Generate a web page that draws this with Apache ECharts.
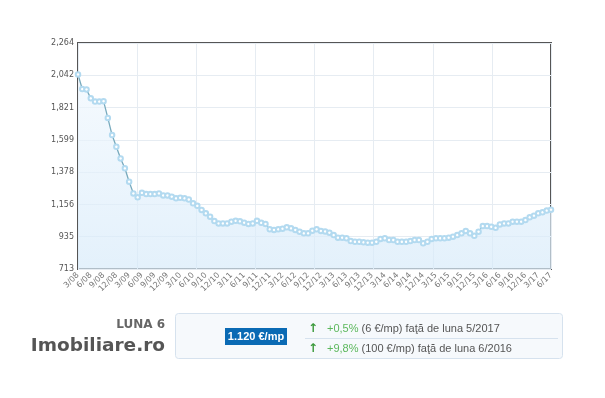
<!DOCTYPE html>
<html>
<head>
<meta charset="utf-8">
<script src="https://cdn.jsdelivr.net/npm/echarts@6/dist/echarts.min.js"></script>
<style>
html,body{margin:0;padding:0;background:#fff;}
#c{width:605px;height:398px;}
</style>
</head>
<body>
<div id="c"></div>
<script>
// Monthly price (€/mp), 3/2008 .. 6/2017
const prices = [
 2048,1948,1945,1884,1862,1862,1865,1750,1632,1552,
 1472,1404,1312,1232,1205,1236,1227,1227,1227,1232,
 1218,1218,1209,1198,1202,1198,1190,1164,1147,1118,
 1095,1072,1042,1026,1026,1026,1038,1044,1040,1031,
 1022,1026,1044,1030,1022,985,981,985,990,999,
 992,981,969,958,958,976,985,974,971,962,
 946,928,928,924,905,900,900,896,894,894,
 900,919,924,912,912,900,900,900,905,912,
 912,889,900,919,924,924,924,928,935,946,
 958,974,958,941,969,1008,1008,1003,996,1019,
 1026,1026,1038,1038,1038,1049,1068,1079,1095,1102,
 1114,1120
];
const startYear = 2008, startMonth = 3;
const months = [];
for (let i = 0; i < prices.length; i++) {
  const m = (startMonth - 1 + i) % 12 + 1;
  const y = startYear + Math.floor((startMonth - 1 + i) / 12);
  months.push(m + '/' + String(y % 100).padStart(2, '0'));
}
const yTicks = [713, 935, 1156, 1378, 1599, 1821, 2042, 2264];
const currentPrice = '1.120 €/mp';
const changeRows = [
  {pct: '+0,5%', rest: ' (6 €/mp) faţă de luna 5/2017'},
  {pct: '+9,8%', rest: ' (100 €/mp) faţă de luna 6/2016'}
];
const monthLabel = 'LUNA 6';
const brand = 'Imobiliare.ro';

const yMin = yTicks[0], yMax = yTicks[yTicks.length - 1];
const yStep = (yMax - yMin) / (yTicks.length - 1);

const chart = echarts.init(document.getElementById('c'), null, {renderer: 'canvas'});
const fmt = v => {
  let best = yTicks[0];
  for (const t of yTicks) if (Math.abs(t - v) < Math.abs(best - v)) best = t;
  return best.toLocaleString('en-US');
};
chart.setOption({
  animation: false,
  grid: {left: 78, right: 54, top: 43, bottom: 129, show: true, borderColor: '#555', borderWidth: 2, backgroundColor: 'transparent'},
  xAxis: [{
    type: 'category', data: months, boundaryGap: false,
    axisLine: {show: false}, axisTick: {show: false},
    axisLabel: {interval: 2, rotate: 45, fontSize: 8, fontFamily: 'DejaVu Sans', color: '#777', margin: 5},
    splitLine: {show: false}
  }, {
    type: 'value', min: 0, max: 8, interval: 1, position: 'top',
    axisLine: {show: false}, axisTick: {show: false}, axisLabel: {show: false},
    splitLine: {show: true, lineStyle: {color: '#e6ecf2', width: 1}}
  }],
  yAxis: {
    type: 'value', min: yMin, max: yMax, interval: yStep,
    axisLine: {show: false}, axisTick: {show: false},
    axisLabel: {formatter: fmt, fontSize: 8, fontFamily: 'DejaVu Sans', color: '#555', margin: 4},
    splitLine: {show: true, lineStyle: {color: '#e6ecf2', width: 1}}
  },
  series: [{
    type: 'line', data: prices, xAxisIndex: 0,
    symbol: 'emptyCircle', symbolSize: 4.5, showAllSymbol: true,
    lineStyle: {color: '#78aabd', width: 1.3},
    itemStyle: {color: '#b3daf0', borderWidth: 1},
    areaStyle: {color: new echarts.graphic.LinearGradient(0, 0, 0, 1, [
      {offset: 0, color: '#f0f7fd'}, {offset: 1, color: '#d7eaf9'}])},
    z: 3
  }],
  graphic: [
    {type: 'text', right: 605 - 165, top: 319, style: {text: monthLabel, font: 'bold 12px "DejaVu Sans"', fill: '#666'}},
    {type: 'text', right: 605 - 165, top: 337, style: {text: brand, font: 'bold 18.5px "DejaVu Sans"', fill: '#555'}},
    {type: 'rect', shape: {x: 175.5, y: 313.5, width: 387, height: 45, r: 3}, style: {fill: '#f6f9fc', stroke: '#d6e2ee', lineWidth: 1}},
    {type: 'rect', shape: {x: 225, y: 328, width: 62, height: 17}, style: {fill: '#0a6ab4'}},
    {type: 'text', x: 256, y: 336.5, style: {text: currentPrice, font: 'bold 11px "Liberation Sans"', fill: '#fff', textAlign: 'center', textVerticalAlign: 'middle'}},
    {type: 'line', shape: {x1: 305, y1: 338.5, x2: 558, y2: 338.5}, style: {stroke: '#d6e2ee', lineWidth: 1}},
    {type: 'text', x: 313, y: 328.5, style: {text: '↑', font: 'bold 12px "DejaVu Sans"', fill: '#3c9a3c', textAlign: 'center', textVerticalAlign: 'middle'}},
    {type: 'text', x: 313, y: 349, style: {text: '↑', font: 'bold 12px "DejaVu Sans"', fill: '#3c9a3c', textAlign: 'center', textVerticalAlign: 'middle'}},
    {type: 'text', x: 327, y: 328.5, style: {rich: {g: {fill: '#5cb85c', font: '11px "Liberation Sans"'}, t: {fill: '#555', font: '11px "Liberation Sans"'}}, text: '{g|' + changeRows[0].pct + '}{t|' + changeRows[0].rest + '}', textVerticalAlign: 'middle'}},
    {type: 'text', x: 327, y: 349, style: {rich: {g: {fill: '#5cb85c', font: '11px "Liberation Sans"'}, t: {fill: '#555', font: '11px "Liberation Sans"'}}, text: '{g|' + changeRows[1].pct + '}{t|' + changeRows[1].rest + '}', textVerticalAlign: 'middle'}}
  ]
});
</script>
</body>
</html>
